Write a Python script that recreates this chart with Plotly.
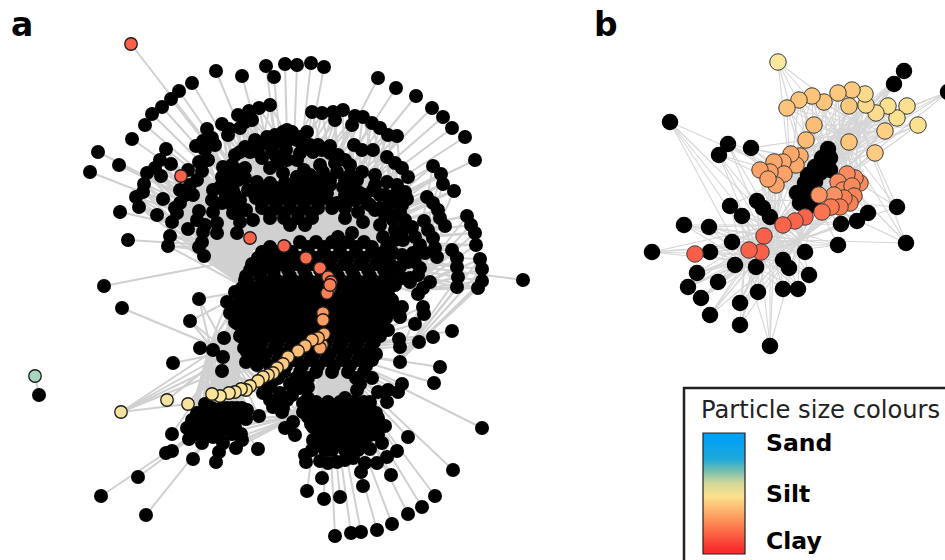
import plotly.graph_objects as go

# ---------- panel a: network layout coordinates ----------
a_outer_black = [(192,83),(179,91),(171,99),(162,107),(152,114),(145,125),(132,139),(98,152),(119,165),(90,172),
 (216,71),(242,76),(266,66),(274,77),(285,64),(297,65),(311,63),(324,67),(378,78),(396,88),(416,96),(432,108),
 (443,117),(452,128),(465,137),(475,160),(523,280),(482,428),(453,470),(435,496),(422,507),(408,514),(392,524),
 (377,530),(361,532),(351,533),(335,536),(307,491),(324,499),(340,497),(363,486),(391,475),(408,437),(452,331),
 (440,367),(434,383),(433,337),(104,286),(122,308),(173,363),(172,434),(172,451),(166,453),(193,459),(216,462),
 (138,477),(101,496),(146,515),(120,212),(128,240),(258,449),(259,416)]
a_isolated_black = [(39,395)]
a_arc_black = [(270,105),(259,108),(249,111),(245,122),(238,115),(229,129),(222,124),(212,138),(207,129),(203,141),(196,146),
 (166,149),(160,160),(171,164),(155,168),(147,173),(161,176),(144,184),(143,192),(136,197),(139,207),(163,199),(157,215),
 (170,236),(168,246),(208,160),(199,162),(202,171),(197,180),(180,190),(193,195),(180,203),(177,213),(172,222),(188,229),
 (199,211),(197,220),(203,232),(202,242),(199,247),(204,256),(235,155),(245,147),(255,140),(267,137),(283,132),(292,132),
 (300,137),(280,142),(263,143),(250,152),(223,167),(237,170),(245,168),(222,177),(230,182),(213,190),(220,187),(233,190),
 (212,200),(222,203),(217,223),(217,233),(270,168),(277,163),(287,160),(297,160),(283,173),(297,177),(257,182),(248,190),
 (240,200),(233,213),(240,222),(253,220),(237,233),(312,112),(322,113),(333,112),(343,110),(335,120),(352,125),(355,116),
 (363,117),(372,123),(380,128),(388,135),(397,136),(354,145),(362,150),(373,150),(387,157),(395,163),(402,168),(408,177),
 (375,175),(387,182),(397,185),(405,192),(407,199),(433,166),(441,174),(443,184),(454,191),(427,197),(433,203),(438,210),
 (440,218),(445,226),(467,216),(471,225),(475,233),(476,245),(424,221),(428,230),(433,238),(435,248),(437,257),(425,253),
 (452,250),(457,258),(457,267),(458,277),(457,287),(480,259),(482,269),(482,281),(478,288),(307,132),(297,140),(287,130),
 (285,143),(300,153),(313,152),(322,150),(330,153),(338,155),(297,177),(310,175),(323,172),(337,172),(350,175),(357,180),
 (327,193),(343,187),(360,193),(337,203),(350,200),(367,203),(345,218),(363,222),(380,195),(390,203),(400,212),(412,227),
 (393,220),(403,240),(413,253),(420,268),(400,267),(410,278),(430,282),(393,253),(383,237),(387,247),(338,237),(352,233),
 (240,152),(256,147),(270,143),(275,135),(288,140),(303,145),(318,145),(330,146),(345,160),(310,145),
 (304,170),(330,180),(345,180),(355,188),(365,195),(373,190),(385,195),(395,195),(402,205),(375,210),(385,215),(395,230),(405,220),(415,237),(420,245),(408,262),(415,262),(418,275),(395,270),(402,278),
 (188,170),(190,185),(185,195),(175,208),(205,150),(215,145),(228,135),(240,128),(252,120),(225,192),(232,205),(238,180),(245,178),(255,195),(246,210),(213,212),(205,225),
 (258,152),(272,150),(286,150),(262,158),(275,155),(305,180),(318,180),(330,185),(345,195),(355,200),(320,165),(335,163),(350,165),(362,172),(375,185),(370,205),(358,212),(332,208),(345,208),
 (380,208),(390,215),(380,225),(395,240),(403,230),(402,255),(232,165),(228,175),(240,175),(225,200),(235,195),(242,210)]
a_cluster_upper = [(262,188),(276,188),(290,188),(306,188),(318,188),(256,198),(270,198),(284,198),(298,198),(312,198),(326,198),
 (262,208),(276,208),(290,208),(304,208),(318,208),(270,218),(284,218),(298,218),(312,218),(290,225),(305,225),
 (266,193),(280,193),(294,193),(310,193),(322,193),(262,203),(276,203),(290,203),(304,203),(318,203),(270,213),(284,213),(298,213),(312,213),(270,183),(285,183),(300,183),(312,183)]
a_cluster_main = [(300,242),(316,242),(332,242),(348,242),(364,242),
 (262,252),(276,252),(292,252),(308,252),(324,252),(340,252),(356,252),(372,252),(384,252),
 (252,264),(266,264),(280,264),(296,264),(312,264),(328,264),(344,264),(360,264),(376,264),(390,264),
 (246,276),(260,276),(274,276),(290,276),(306,276),(322,276),(338,276),(354,276),(370,276),(386,276),
 (242,288),(256,288),(270,288),(286,288),(302,288),(318,288),(334,288),(350,288),(366,288),(382,288),(395,285),(410,282),(423,288),(418,294),
 (240,300),(254,300),(268,300),(284,300),(300,300),(316,300),(332,300),(348,300),(364,300),(380,300),(392,300),(402,307),(400,317),(423,307),(424,314),(415,324),
 (240,312),(254,312),(270,312),(286,312),(302,312),(318,312),(334,312),(350,312),(366,312),(382,312),(392,312),
 (238,324),(252,324),(268,324),(284,324),(300,324),(316,324),(332,324),(348,324),(364,324),(380,324),
 (240,336),(254,336),(270,336),(286,336),(302,336),(318,336),(334,336),(350,336),(366,336),(380,336),(399,339),(400,347),(419,342),
 (244,348),(258,348),(274,348),(290,348),(306,348),(322,348),(338,348),(354,348),(370,348),(400,362),
 (262,360),(278,360),(294,360),(310,360),(326,360),(342,360),(358,360),(372,360),
 (284,372),(300,372),(316,372),(332,372),(348,372),(364,372),(272,382),(290,384),(306,382),(360,384),
 (402,384),(398,392),(388,390),(378,392),(387,402),(370,402),(357,390),(357,403),(345,398),(308,398),(303,403),(308,387),
 (310,408),(322,408),(334,408),(346,408),(358,408),(370,408),(303,412),(308,417),
 (318,418),(330,418),(342,418),(354,418),(366,418),(378,418),(313,427),(320,430),(332,430),(344,430),(356,430),(368,430),(385,426),(373,428),
 (313,440),(328,440),(340,440),(352,440),(364,440),(382,443),(397,451),(387,457),(377,463),(370,449),
 (312,450),(325,450),(345,443),(360,443),(332,450),(345,450),(358,450),(306,462),(305,455),(320,461),(328,463),(337,462),(345,460),(353,458),
 (365,463),(361,472),(322,478),(295,435),(285,428),(293,422),
 (268,388),(280,393),(292,395),(300,388),(270,400),(282,412)]
a_cluster_fill = [(270,247),(285,247),(308,247),(324,247),(340,247),(356,247),(372,247),
 (258,258),(272,258),(286,258),(300,258),(316,258),(332,258),(348,258),(364,258),(380,258),
 (250,270),(262,270),(274,270),(288,270),(304,270),(320,270),(336,270),(352,270),(368,270),(384,270),(396,270),
 (248,282),(264,282),(280,282),(296,282),(312,282),(328,282),(344,282),(360,282),(376,282),(390,282),
 (246,294),(262,294),(278,294),(294,294),(310,294),(326,294),(342,294),(358,294),(374,294),(388,294),
 (246,306),(262,306),(276,306),(292,306),(308,306),(324,306),(340,306),(356,306),(372,306),(386,306),
 (244,318),(260,318),(276,318),(292,318),(308,318),(324,318),(340,318),(356,318),(372,318),(386,318),
 (244,330),(260,330),(276,330),(292,330),(308,330),(324,330),(340,330),(356,330),(372,330),(388,330),
 (248,342),(262,342),(278,342),(294,342),(310,342),(326,342),(342,342),(358,342),(374,342),
 (252,354),(266,354),(282,354),(298,354),(314,354),(330,354),(346,354),(362,354),(376,354),
 (270,366),(286,366),(302,366),(318,366),(334,366),(350,366),(366,366),
 (278,378),(296,378),(308,378),(356,378),(372,378),
 (316,402),(328,402),(340,402),(352,402),(364,402),(316,413),(328,413),(340,413),(352,413),(364,413),(376,413),
 (311,424),(326,424),(338,424),(350,424),(362,424),(374,424),(318,435),(334,435),(346,435),(358,435),(370,435),(378,435),
 (320,445),(335,445),(350,445),(365,445),
 (202,416),(214,416),(226,416),(240,416),(195,424),(207,424),(220,424),(233,424),(195,434),(207,434),(219,434),(232,434),(241,434),(212,408),(222,408),(232,408),(242,408)]
a_cluster_left = [(235,292),(227,302),(235,307),(230,313),(235,322),(248,298),(245,280),(199,299),(190,321),(224,338),(200,348),(213,350),
 (223,357),(222,371),(247,352),(246,362),(257,365),(245,340),(250,330),
 (205,404),(197,413),(207,413),(217,410),(227,408),(237,408),(247,410),(246,419),(233,420),(220,420),(192,420),(187,428),(200,427),
 (213,427),(227,428),(235,427),(189,439),(202,443),(213,437),(223,443),(242,440),(236,448),(219,452),
 (277,403),(287,400),(283,408),(273,407),(293,387),(263,393)]

a_colored_x = [131,181,250,284,306,320,328,331,330,327,330,323,323,322,320,324,318,312,305,298,288,283,277,273,268,263,258,250,246,241,235,229,220,212,188,167,121,35]
a_colored_y = [44,176,238,246,258,268,277,282,288,293,285,313,320,345,348,334,338,340,346,351,357,364,368,373,375,377,381,386,390,389,392,393,396,394,404,400,412,376]
a_colored_c = ['#F9614A','#F9614A','#F9614A','#F9614A','#FA6A4C','#FB7050','#FB7A52','#FB7F55','#FB7F55','#FB7F55','#FB7F55','#FC9660','#FC9C62','#FCA466','#FCA466','#FCA868','#FCAE6C','#FCB46F','#FCB872','#FCBE76','#FCC47A','#FCCA80','#FCCF85','#FBD388','#FBD68B','#FBD98E','#FBDC90','#FBDF93','#FBE195','#FBE297','#FBE297','#FBE398','#FBE398','#FBE398','#F6E3A0','#F3E2A0','#F1E2A2','#A8D5C0']

# ---------- panel b ----------
b_black = [(670,122),(728,144),(719,155),(751,148),(904,71),(894,84),(948,92),(897,207),(906,243),(868,213),(857,221),(841,224),(838,245),
 (730,206),(742,216),(684,225),(709,227),(652,252),(710,252),(732,242),(735,265),(756,267),(697,273),(718,282),(688,287),(701,298),
 (710,315),(740,303),(740,325),(758,292),(770,346),(783,289),(798,289),(809,275),(805,252),(783,260),(789,268),
 (828,149),(822,158),(830,158),(815,167),(825,168),(830,170),(808,175),(820,173),(805,183),(815,182),(797,193),(807,192),(800,203),(813,205),
 (757,201),(763,208),(770,217)]
b_colored_x = [778,918,907,897,888,876,866,865,885,875,849,852,849,838,824,812,799,787,814,806,800,796,791,783,774,784,770,760,776,768,860,855,847,838,843,852,854,850,844,834,819,840,831,822,805,795,783,764,761,749,695]
b_colored_y = [62,125,106,118,106,113,105,94,131,153,142,90,106,93,102,96,100,108,125,140,156,165,154,162,162,174,172,170,185,179,183,178,174,182,190,186,196,203,198,195,195,207,207,212,217,221,225,236,252,250,254]
b_colored_c = ['#FBE79D','#FBE090','#FBE090','#FBE090','#FBE090','#FBDC8E','#FBD98A','#FBD98A','#FCCF84','#FCCB80','#FCC57A','#FCC87E','#FCC87E','#FCC87E','#FCC47A','#FCC47A','#FCC47A','#FCC47A','#FCBE76','#FCBC74','#FCAF6C','#FCA86A','#FCA86A','#FCA86A','#FCA86A','#FCA268','#FCA268','#FCA268','#FCA268','#FCA268','#FB8A5C','#FB8A5C','#FB8A5C','#FB8A5C','#FB8A5C','#FB8A5C','#FB8558','#FB8054','#FB8054','#FB9060','#FB9462','#FB7B52','#FB7B52','#FB7450','#F9654A','#F9654A','#F9654A','#F9614A','#F9614A','#F9614A','#F95F48']

legend_title = 'Particle size colours'
legend_labels = ['Sand', 'Silt', 'Clay']
legend_levels = [0.0, 0.1, 0.2, 0.3, 0.4, 0.5, 0.6, 0.7, 0.8, 0.9, 1.0]
legend_colours = [[0.0,'#F92D2D'],[0.12,'#FB5A40'],[0.3,'#FDA060'],[0.48,'#FDE08A'],[0.6,'#D5D89A'],[0.72,'#70BDB0'],[0.82,'#20AAD8'],[1.0,'#00A0F5']]

HUB_UP = (290,250); HUB_LOW = (326,350); HUB_LEFT = (228,352); HUB_LL = (230,410)
a_inner_hubs = [(240,255),(345,240),(410,290),(250,290),(395,365),(345,390),(235,375),(300,415),(210,345)]
b_hubs = [(815,200),(775,225),(760,255),(830,165),(790,175),(800,240),(860,125),(770,245),(745,262),(840,135)]

def hub_for(p):
    x, y = p
    if y < 295: return HUB_UP
    if x < 270: return HUB_LEFT if y < 440 else HUB_LL
    return HUB_LOW

def edges(nodes):
    ex, ey = [], []
    for p in nodes:
        h = hub_for(p)
        ex += [p[0], h[0], None]; ey += [p[1], h[1], None]
    return ex, ey

fig = go.Figure()
blk_a = a_outer_black + a_arc_black + a_cluster_upper + a_cluster_main + a_cluster_fill + a_cluster_left
ex, ey = edges(blk_a + list(zip(a_colored_x[:-1], a_colored_y[:-1])))
for p in a_arc_black + a_cluster_left:
    for h in sorted(a_inner_hubs, key=lambda q:(q[0]-p[0])**2+(q[1]-p[1])**2)[:2]:
        ex += [p[0], h[0], None]; ey += [p[1], h[1], None]
ex += [35,39,None, HUB_UP[0],HUB_LOW[0],None, HUB_LEFT[0],HUB_UP[0],None, HUB_LEFT[0],HUB_LOW[0],None, 121,230,None, 121,225,None, 121,240,None, 167,235,None, 188,230,None, 121,188,None]
ey += [376,395,None, HUB_UP[1],HUB_LOW[1],None, HUB_LEFT[1],HUB_UP[1],None, HUB_LEFT[1],HUB_LOW[1],None, 412,340,None, 412,370,None, 412,355,None, 400,345,None, 404,350,None, 412,404,None]
fig.add_trace(go.Scatter(x=ex, y=ey, mode='lines', line=dict(color='#D0D0D0', width=2), hoverinfo='skip', showlegend=False))

blk_all = blk_a + a_isolated_black
fig.add_trace(go.Scatter(x=[p[0] for p in blk_all], y=[p[1] for p in blk_all], mode='markers',
    marker=dict(color='#000000', size=14), hoverinfo='skip', showlegend=False))
fig.add_trace(go.Scatter(x=a_colored_x, y=a_colored_y, mode='markers',
    marker=dict(color=a_colored_c, size=12.5, line=dict(color='#1a1a1a', width=1.3)), hoverinfo='skip', showlegend=False))

# panel b edges
all_b = b_black + list(zip(b_colored_x, b_colored_y))
bx, by = [], []
for p in all_b:
    for h in sorted(b_hubs, key=lambda q:(q[0]-p[0])**2+(q[1]-p[1])**2)[:5]:
        bx += [p[0], h[0], None]; by += [p[1], h[1], None]
fig.add_trace(go.Scatter(x=bx, y=by, mode='lines', line=dict(color='#D6D6D6', width=1.1), hoverinfo='skip', showlegend=False))
fig.add_trace(go.Scatter(x=[p[0] for p in b_black], y=[p[1] for p in b_black], mode='markers',
    marker=dict(color='#000000', size=16.5), hoverinfo='skip', showlegend=False))
fig.add_trace(go.Scatter(x=b_colored_x, y=b_colored_y, mode='markers',
    marker=dict(color=b_colored_c, size=16.5, line=dict(color='#3a3a3a', width=1)), hoverinfo='skip', showlegend=False))

# legend gradient
n = len(legend_levels)
half = 121/(2*n)
fig.add_trace(go.Heatmap(x=[703,745], y=[554-half-(121-2*half)*i/(n-1) for i in range(n)], z=[[v] for v in legend_levels],
    colorscale=legend_colours, showscale=False, zsmooth='best', hoverinfo='skip'))

annots = [
 dict(x=9, y=24, text='<b>a</b>', size=33, color='#000000'),
 dict(x=592, y=24, text='<b>b</b>', size=33, color='#000000'),
 dict(x=699, y=410, text=legend_title, size=24.2, color='#222222'),
 dict(x=764, y=443, text='<b>'+legend_labels[0]+'</b>', size=23.5, color='#000000'),
 dict(x=764, y=494, text='<b>'+legend_labels[1]+'</b>', size=23.5, color='#000000'),
 dict(x=764, y=541, text='<b>'+legend_labels[2]+'</b>', size=23.5, color='#000000'),
]
fig.update_layout(
    width=945, height=560, margin=dict(l=0,r=0,t=0,b=0), paper_bgcolor='white', plot_bgcolor='white',
    xaxis=dict(range=[0,945], visible=False), yaxis=dict(range=[560,0], visible=False),
    showlegend=False,
    annotations=[dict(x=a['x'], y=a['y'], xref='x', yref='y', text=a['text'], showarrow=False, xanchor='left', yanchor='middle',
                      font=dict(family='DejaVu Sans', size=a['size'], color=a['color'])) for a in annots],
    shapes=[dict(type='rect', xref='x', yref='y', x0=684, y0=388, x1=965, y1=575, line=dict(color='#222222', width=2.5)),
            dict(type='rect', xref='x', yref='y', x0=703, y0=433, x1=745, y1=554, line=dict(color='#222222', width=1.2), layer='above')],
)
fig.write_html('out.html', post_script="document.body.style.margin='0';", config={'displayModeBar': False})
